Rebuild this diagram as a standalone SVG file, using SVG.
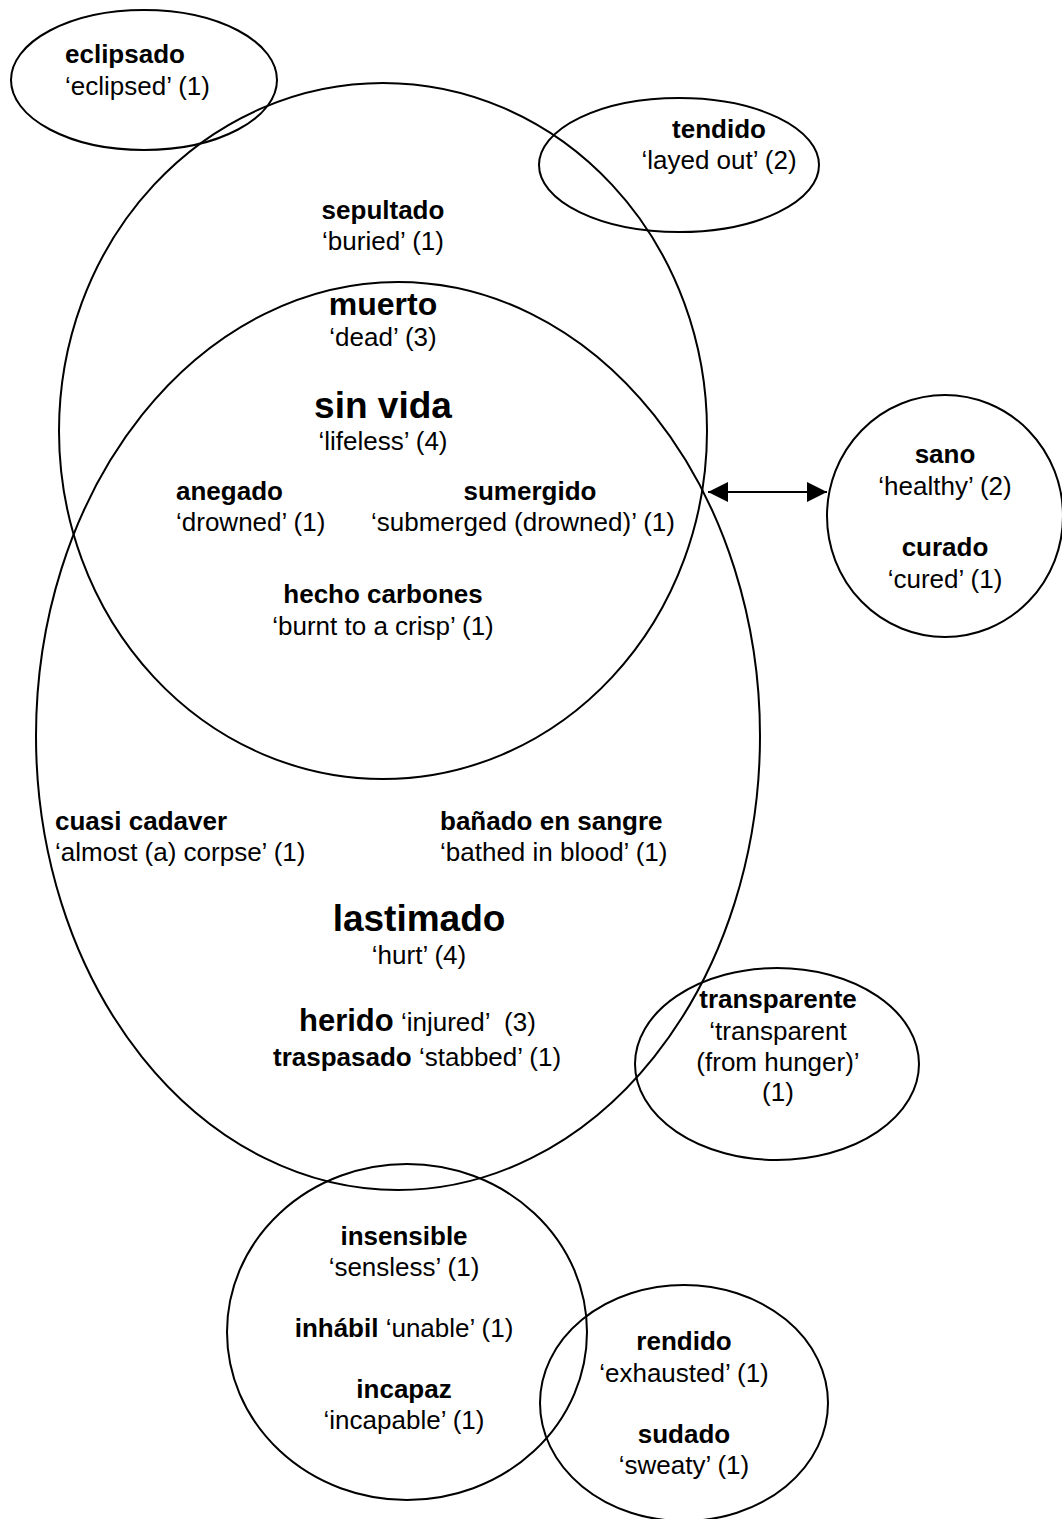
<svg xmlns="http://www.w3.org/2000/svg" width="1062" height="1519" viewBox="0 0 1062 1519">
<defs>
<style>
.sh{fill:none;stroke:#000;stroke-width:2}
text{font-family:"Liberation Sans",Arial,sans-serif;font-size:26px;fill:#000}
.b{font-weight:bold}
.m{text-anchor:middle}
.l32{font-size:32px}
.l37{font-size:37px}
.l31{font-size:31px}
</style>
<marker id="ah" markerUnits="userSpaceOnUse" markerWidth="20" markerHeight="20" refX="20" refY="10" orient="auto-start-reverse">
<path d="M0,0 L20,10 L0,20 z" fill="#000"/>
</marker>
</defs>
<rect width="1062" height="1519" fill="#fff"/>

<g id="eclipsado">
<ellipse class="sh" cx="144" cy="80" rx="133" ry="70"/>
<text class="b" x="65" y="63">eclipsado</text>
<text x="65" y="95">‘eclipsed’ (1)</text>
</g>

<g id="upper">
<ellipse class="sh" cx="383" cy="431" rx="324" ry="348"/>
<text class="b m" x="383" y="219">sepultado</text>
<text class="m" x="383" y="250">‘buried’ (1)</text>
</g>

<g id="big">
<ellipse class="sh" cx="398" cy="736" rx="362" ry="454"/>
<text class="b m l32" x="383" y="315">muerto</text>
<text class="m" x="383" y="346">‘dead’ (3)</text>
<text class="b m l37" x="383" y="418">sin vida</text>
<text class="m" x="383" y="450">‘lifeless’ (4)</text>
<text class="b" x="176" y="500">anegado</text>
<text x="176" y="531">‘drowned’ (1)</text>
<text class="b m" x="530" y="500">sumergido</text>
<text class="m" x="523" y="531">‘submerged (drowned)’ (1)</text>
<text class="b m" x="383" y="603">hecho carbones</text>
<text class="m" x="383" y="635">‘burnt to a crisp’ (1)</text>
<text class="b" x="55" y="830">cuasi cadaver</text>
<text x="55" y="861">‘almost (a) corpse’ (1)</text>
<text class="b" x="440" y="830">bañado en sangre</text>
<text x="440" y="861">‘bathed in blood’ (1)</text>
<text class="b m l37" x="419" y="931">lastimado</text>
<text class="m" x="419" y="964">‘hurt’ (4)</text>
<text x="299" y="1031" xml:space="preserve"><tspan class="b l31">herido</tspan> ‘injured’  (3)</text>
<text x="273" y="1066"><tspan class="b">traspasado</tspan> ‘stabbed’ (1)</text>
</g>

<g id="tendido">
<ellipse class="sh" cx="679" cy="165" rx="140" ry="67"/>
<text class="b m" x="719" y="138">tendido</text>
<text class="m" x="719" y="169">‘layed out’ (2)</text>
</g>

<g id="sano">
<ellipse class="sh" cx="945" cy="516" rx="118" ry="121"/>
<text class="b m" x="945" y="463">sano</text>
<text class="m" x="945" y="495">‘healthy’ (2)</text>
<text class="b m" x="945" y="556">curado</text>
<text class="m" x="945" y="588">‘cured’ (1)</text>
</g>

<g id="transparente">
<ellipse class="sh" cx="777" cy="1064" rx="142" ry="96"/>
<text class="b m" x="778" y="1008">transparente</text>
<text class="m" x="778" y="1040">‘transparent</text>
<text class="m" x="778" y="1071">(from hunger)’</text>
<text class="m" x="778" y="1101">(1)</text>
</g>

<g id="insensible">
<ellipse class="sh" cx="407" cy="1332" rx="180" ry="168"/>
<text class="b m" x="404" y="1245">insensible</text>
<text class="m" x="404" y="1276">‘sensless’ (1)</text>
<text class="m" x="404" y="1337"><tspan class="b">inhábil</tspan> ‘unable’ (1)</text>
<text class="b m" x="404" y="1398">incapaz</text>
<text class="m" x="404" y="1429">‘incapable’ (1)</text>
</g>

<g id="rendido">
<ellipse class="sh" cx="684" cy="1403" rx="144" ry="118"/>
<text class="b m" x="684" y="1350">rendido</text>
<text class="m" x="684" y="1382">‘exhausted’ (1)</text>
<text class="b m" x="684" y="1443">sudado</text>
<text class="m" x="684" y="1474">‘sweaty’ (1)</text>
</g>

<g id="connectors">
<line x1="708" y1="492" x2="827" y2="492" stroke="#000" stroke-width="2" marker-start="url(#ah)" marker-end="url(#ah)"/>
</g>
</svg>
